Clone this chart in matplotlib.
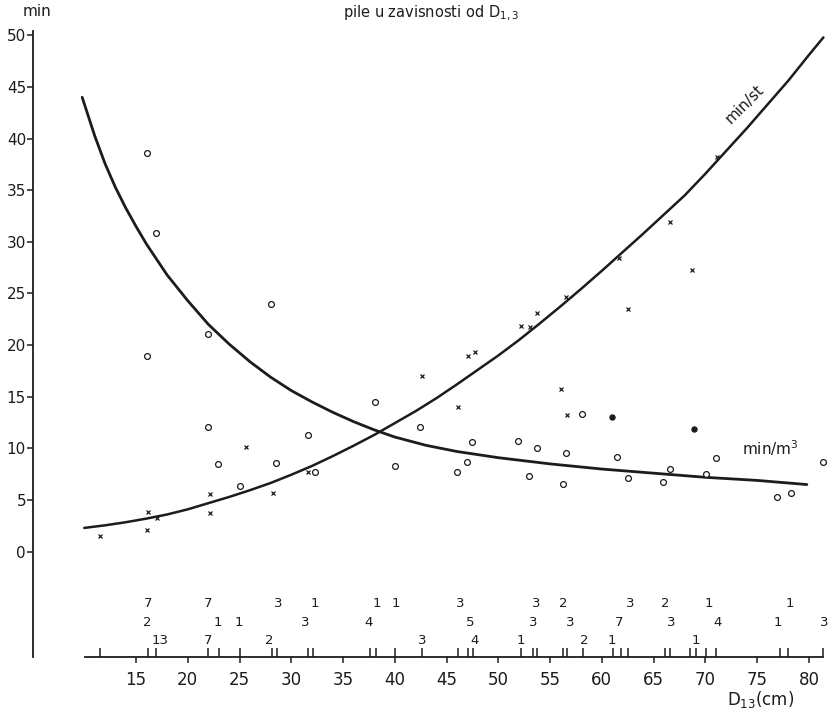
import matplotlib
matplotlib.use("Agg")
import matplotlib.pyplot as plt

# curves (D13 in cm, minutes)
m3_D = [9.8, 11, 12, 13, 14, 15, 16, 18, 20, 22, 24, 26, 28, 30, 32, 34, 36, 38, 40,
        43, 46, 50, 55, 60, 65, 70, 75, 79.8]
m3_v = [44.0, 40.3, 37.6, 35.3, 33.3, 31.5, 29.8, 26.8, 24.3, 22.0, 20.1, 18.4, 16.9, 15.6,
        14.5, 13.5, 12.6, 11.8, 11.1, 10.3, 9.7, 9.1, 8.5, 8.0, 7.6, 7.2, 6.9, 6.5]

st_D = [10, 12, 14, 16, 18, 20, 22, 24, 26, 28, 30, 32, 34, 36, 38, 40, 42, 44, 46, 48,
        50, 52, 54, 56, 58, 60, 62, 64, 66, 68, 70, 72, 74, 76, 78, 80, 81.4]
st_v = [2.3, 2.55, 2.85, 3.2, 3.6, 4.1, 4.7, 5.3, 5.95, 6.65, 7.45, 8.3, 9.25, 10.25, 11.3,
        12.45, 13.6, 14.85, 16.2, 17.6, 19.0, 20.5, 22.1, 23.75, 25.45, 27.2, 29.0, 30.8,
        32.65, 34.5, 36.6, 38.8, 41.0, 43.3, 45.6, 48.1, 49.8]

# measured points, min/m3 (open circles)
circ_D = [16.1, 16.9, 16.1, 22.0, 28.0, 22.0, 22.9, 25.0, 28.5, 38.1, 31.6, 32.3, 40.0,
          42.4, 47.5, 47.0, 46.0, 51.9, 53.7, 56.5, 53.0, 56.2, 58.1, 61.5, 62.5, 66.6,
          65.9, 70.1, 71.0, 76.9, 78.3, 81.4]
circ_v = [38.6, 30.9, 18.9, 21.1, 24.0, 12.1, 8.5, 6.4, 8.6, 14.5, 11.3, 7.7, 8.3,
          12.1, 10.6, 8.7, 7.7, 10.7, 10.0, 9.6, 7.3, 6.6, 13.3, 9.2, 7.1, 8.0,
          6.7, 7.5, 9.1, 5.3, 5.7, 8.7]
# filled dots
dot_D = [61.0, 68.9]
dot_v = [13.0, 11.9]

# measured points, min/st (crosses)
cross_D = [11.5, 16.1, 16.2, 17.0, 22.1, 22.1, 25.6, 28.2, 31.6, 42.6, 46.1, 47.1, 47.7,
           52.2, 53.1, 53.7, 56.5, 56.1, 61.7, 68.7, 62.5, 66.6, 71.1, 56.6]
cross_v = [1.5, 2.1, 3.8, 3.3, 3.7, 5.6, 10.1, 5.7, 7.7, 17.0, 14.0, 18.9, 19.3,
           21.9, 21.8, 23.1, 24.7, 15.8, 28.4, 27.3, 23.5, 31.9, 38.2, 13.2]

# tally marks on the D13 axis and the counts written above them
tally_D = [11.5, 16.2, 16.9, 22.0, 23.0, 25.0, 28.1, 28.6, 31.6, 32.1, 37.6, 38.2, 40.0,
           42.6, 46.1, 47.1, 47.6, 52.2, 53.3, 53.7, 56.2, 56.6, 58.2, 61.1, 61.8, 62.5,
           66.1, 66.6, 68.5, 69.1, 70.1, 71.0, 77.2, 78.0, 81.4]
row1_D = [16.2, 22.0, 28.7, 32.3, 38.3, 40.1, 46.3, 53.7, 56.3, 62.7, 66.1, 70.3, 78.2]
row1_t = ["7", "7", "3", "1", "1", "1", "3", "3", "2", "3", "2", "1", "1"]
row2_D = [16.1, 22.9, 24.9, 31.3, 37.5, 47.3, 53.4, 56.9, 61.7, 66.7, 71.2, 77.0, 81.5]
row2_t = ["2", "1", "1", "3", "4", "5", "3", "3", "7", "3", "4", "1", "3"]
row3_D = [17.3, 22.0, 27.9, 42.6, 47.7, 52.2, 58.3, 61.0, 69.1]
row3_t = ["13", "7", "2", "3", "4", "1", "2", "1", "1"]

y_ticks = list(range(0, 51, 5))
x_ticks = list(range(15, 81, 5))

ink = "#1c1c1c"
plt.rcParams["font.family"] = "DejaVu Sans"

fig = plt.figure(figsize=(8.31, 7.10), dpi=100)
ax = fig.add_axes([33 / 831, 53 / 710, 793 / 831, 625.8 / 710])
ymin, ymax = -10.2, 50.4
ax.set_xlim(5.05, 81.65)
ax.set_ylim(ymin, ymax)

for s in ["top", "right", "bottom"]:
    ax.spines[s].set_visible(False)
ax.spines["left"].set_color(ink)
ax.spines["left"].set_linewidth(1.3)

ax.plot(m3_D, m3_v, color=ink, lw=2.0, solid_capstyle="round")
ax.plot(st_D, st_v, color=ink, lw=1.8, solid_capstyle="round")

ax.plot(circ_D, circ_v, "o", ms=4.2, mfc="white", mec=ink, mew=0.9, ls="none")
ax.plot(dot_D, dot_v, "o", ms=3.6, mfc=ink, mec=ink, ls="none")
ax.plot(cross_D, cross_v, "x", ms=3.2, mec=ink, mew=0.9, ls="none")

# D13 axis line with tally marks
ax.plot([10.1, 81.4], [ymin, ymin], color=ink, lw=1.3, clip_on=False)
ax.vlines(tally_D, ymin, ymin + 0.85, color=ink, lw=1.1, clip_on=False)
for row, (dd, tt) in zip([-5.0, -6.85, -8.6], [(row1_D, row1_t), (row2_D, row2_t), (row3_D, row3_t)]):
    for d, t in zip(dd, tt):
        ax.text(d, row, t, ha="center", va="center", fontsize=9.5, color=ink, clip_on=False)

ax.set_yticks(y_ticks)
ax.set_xticks(x_ticks)
ax.tick_params(axis="y", direction="out", length=4, width=1.1, pad=1, labelsize=11,
               colors=ink)
ax.tick_params(axis="x", direction="out", length=4, width=1.1, pad=6, labelsize=12,
               colors=ink)

ax.text(5.45, 52.3, "min", ha="center", va="center", fontsize=11, color=ink, clip_on=False)
ax.text(43.5, 52.1, "pile u zavisnosti od D$_{1,3}$", ha="center", va="center",
        fontsize=10.5, color=ink, clip_on=False)
ax.text(73.8, 43.3, "min/st", ha="center", va="center", rotation=45,
        rotation_mode="anchor", fontsize=11, color=ink)
ax.text(76.3, 10.0, "min/m$^3$", ha="center", va="center", fontsize=11, color=ink)
ax.text(75.3, -14.3, "D$_{13}$(cm)", ha="center", va="center", fontsize=12, color=ink,
        clip_on=False)

fig.savefig("out.png", dpi=100, facecolor="white")
